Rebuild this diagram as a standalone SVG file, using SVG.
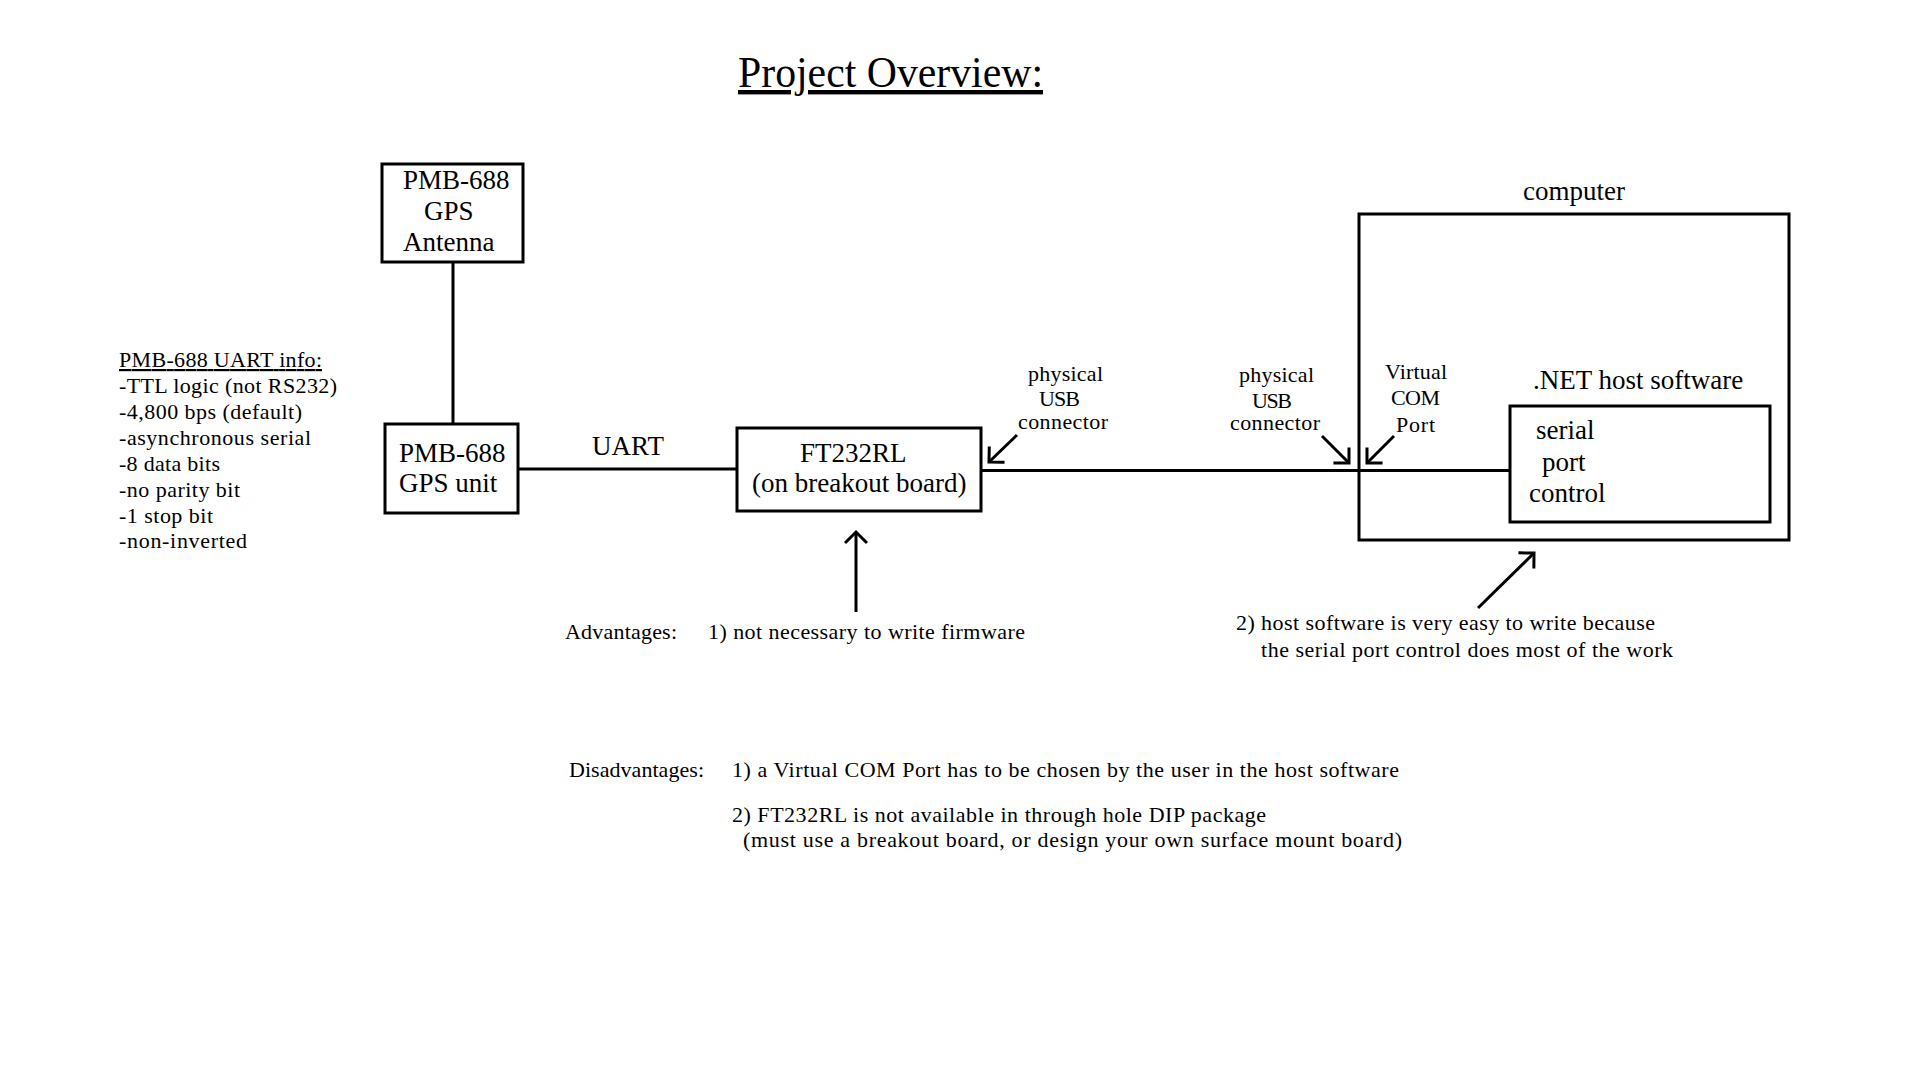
<svg xmlns="http://www.w3.org/2000/svg" width="1920" height="1080" viewBox="0 0 1920 1080">
<style>
text{font-family:"Liberation Serif","Times New Roman",serif;fill:#000}
.n{font-size:27px}
.s{font-size:22px}
.box{fill:none;stroke:#000;stroke-width:3}
.ln{fill:none;stroke:#000;stroke-width:3}
</style>
<defs>
<marker id="arr" markerUnits="userSpaceOnUse" viewBox="-14 -14 16 28" markerWidth="16" markerHeight="28" refX="0" refY="0" orient="auto" overflow="visible">
<path d="M-11,-11 L0,0 L-11,11" fill="none" stroke="#000" stroke-width="3"/>
</marker>
</defs>
<rect width="1920" height="1080" fill="#fff"/>
<text x="738" y="87" font-size="44" textLength="305" lengthAdjust="spacingAndGlyphs" text-decoration="underline">Project Overview:</text>

<g id="uart-info" class="s">
<text x="119" y="367" textLength="203" text-decoration="underline">PMB-688 UART info:</text>
<text x="119" y="393" textLength="218">-TTL logic (not RS232)</text>
<text x="119" y="419" textLength="183">-4,800 bps (default)</text>
<text x="119" y="445" textLength="192">-asynchronous serial</text>
<text x="119" y="471" textLength="101">-8 data bits</text>
<text x="119" y="497" textLength="121">-no parity bit</text>
<text x="119" y="523" textLength="94">-1 stop bit</text>
<text x="119" y="548" textLength="128">-non-inverted</text>
</g>

<g id="connectors">
<line class="ln" x1="453" y1="263" x2="453" y2="424"/>
<line class="ln" x1="519" y1="469" x2="737" y2="469"/>
<line class="ln" x1="981" y1="470.5" x2="1510" y2="470.5"/>
<line class="ln" x1="856" y1="612" x2="856" y2="532" marker-end="url(#arr)"/>
<line class="ln" x1="1017" y1="435" x2="989" y2="462" marker-end="url(#arr)"/>
<line class="ln" x1="1322" y1="436" x2="1349" y2="463" marker-end="url(#arr)"/>
<line class="ln" x1="1394" y1="436" x2="1367" y2="463" marker-end="url(#arr)"/>
<line class="ln" x1="1478" y1="608" x2="1534" y2="553" marker-end="url(#arr)"/>
</g>

<g id="antenna" class="n">
<rect class="box" x="382" y="164" width="141" height="98"/>
<text x="403" y="189">PMB-688</text>
<text x="424" y="220">GPS</text>
<text x="403" y="251">Antenna</text>
</g>

<g id="gps-unit" class="n">
<rect class="box" x="385" y="424" width="133" height="89"/>
<text x="399" y="462">PMB-688</text>
<text x="399" y="492">GPS unit</text>
</g>

<g id="uart-label"><text class="n" x="592" y="455" font-size="26">UART</text></g>

<g id="ft232rl" class="n">
<rect class="box" x="737" y="428" width="244" height="83"/>
<text x="800" y="462">FT232RL</text>
<text x="752" y="492">(on breakout board)</text>
</g>

<g id="usb-left" class="s">
<text x="1028" y="381" textLength="75">physical</text>
<text x="1039" y="406" textLength="41">USB</text>
<text x="1018" y="429" textLength="90">connector</text>
</g>

<g id="usb-right" class="s">
<text x="1239" y="382" textLength="75">physical</text>
<text x="1252" y="408" textLength="40">USB</text>
<text x="1230" y="430" textLength="90">connector</text>
</g>

<g id="computer">
<rect class="box" x="1359" y="214" width="430" height="326"/>
<text class="n" x="1523" y="200">computer</text>
<g class="s">
<text x="1385" y="379" textLength="62">Virtual</text>
<text x="1391" y="405" textLength="49">COM</text>
<text x="1396" y="432" textLength="39">Port</text>
</g>
<text class="n" x="1533" y="389">.NET host software</text>
</g>

<g id="serial-port-control" class="n">
<rect class="box" x="1510" y="406" width="260" height="116"/>
<text x="1536" y="439">serial</text>
<text x="1542" y="471">port</text>
<text x="1529" y="502">control</text>
</g>

<g id="advantages" class="s">
<text x="565" y="639" textLength="112">Advantages:</text>
<text x="708" y="639" textLength="317">1) not necessary to write firmware</text>
<text x="1236" y="630" textLength="419">2) host software is very easy to write because</text>
<text x="1261" y="657" textLength="412">the serial port control does most of the work</text>
</g>

<g id="disadvantages" class="s">
<text x="569" y="777" textLength="135">Disadvantages:</text>
<text x="732" y="777" textLength="667">1) a Virtual COM Port has to be chosen by the user in the host software</text>
<text x="732" y="822" textLength="534">2) FT232RL is not available in through hole DIP package</text>
<text x="743" y="847" textLength="659">(must use a breakout board, or design your own surface mount board)</text>
</g>
</svg>
